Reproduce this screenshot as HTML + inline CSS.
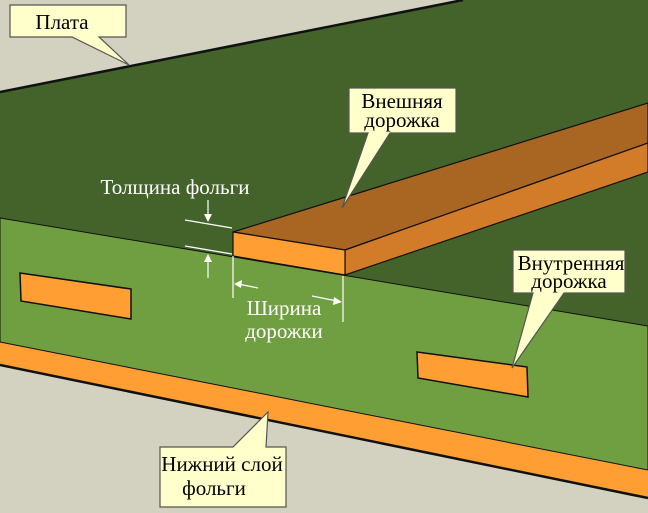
<!DOCTYPE html>
<html><head><meta charset="utf-8"><style>
html,body{margin:0;padding:0;background:#d3d1bf}
svg{display:block}
text{font-family:"Liberation Serif","DejaVu Serif",serif;font-size:21px}
</style></head><body>
<svg width="648" height="513" viewBox="0 0 648 513" xmlns="http://www.w3.org/2000/svg">
<rect width="648" height="513" fill="#d3d1bf"/>
<polygon points="0,92 463,0 648,0 648,326 0,218" fill="#43632a"/>
<line x1="0" y1="92" x2="463" y2="0" stroke="#111" stroke-width="2.5"/>
<polygon points="0,342 648,470 648,498 0,365" fill="#ff9e33"/>
<line x1="0" y1="365" x2="648" y2="498" stroke="#111" stroke-width="2.5"/>
<polygon points="0,218 648,326 648,470 0,342" fill="#6f9f40" stroke="#111" stroke-width="1"/>
<polygon points="233,232 648,103 648,143 345,250" fill="#a96622" stroke="#111" stroke-width="1.2"/>
<polygon points="345,250 648,143 648,172 345,275" fill="#d27c2a" stroke="#111" stroke-width="1.2"/>
<polygon points="233,232 345,250 345,275 233,256" fill="#ff9e33" stroke="#111" stroke-width="1.2"/>
<polygon points="20,273 131,289 131,319 21,301" fill="#ff9e33" stroke="#111" stroke-width="1.5"/>
<polygon points="417,352 527,367 528,397 418,378" fill="#ff9e33" stroke="#111" stroke-width="1.5"/>
<g stroke="#fff" stroke-width="1.2" fill="#fff">
<line x1="185" y1="220" x2="232" y2="228"/>
<line x1="185" y1="246" x2="232" y2="254"/>
<line x1="208" y1="200" x2="208" y2="218"/>
<polygon points="204,214 212,214 208,222" stroke="none"/>
<line x1="208" y1="278" x2="208" y2="258"/>
<polygon points="204,262 212,262 208,254" stroke="none"/>
<line x1="233" y1="256" x2="233" y2="298"/>
<line x1="343" y1="276" x2="343" y2="322"/>
<line x1="258" y1="288" x2="238" y2="284"/>
<polygon points="234,284 242,280 241,288" stroke="none"/>
<line x1="312" y1="296" x2="337" y2="301"/>
<polygon points="342,302 334,297 333,305" stroke="none"/>
</g>
<g fill="#fff" text-anchor="middle">
<text x="175" y="194">Толщина фольги</text>
<text x="284" y="315">Ширина</text>
<text x="284" y="338">дорожки</text>
</g>
<g fill="#ffffcc" stroke="#555" stroke-width="1.2">
<path d="M10,5 H126 V37 H99 L129,65 L72,37 H10 Z"/>
<path d="M349,88 H456 V133 H390 L342,208 L368,133 H349 Z"/>
<path d="M513,250 H625 V293 H564 L512,368 L533,293 H513 Z"/>
<path d="M160,447 V507 H286 V447 H266 L268,412 L233,447 Z"/>
</g>
<g fill="#000" text-anchor="middle">
<text x="62" y="29">Плата</text>
<text x="402" y="108">Внешняя</text>
<text x="402" y="127">дорожка</text>
<text x="571" y="270">Внутренняя</text>
<text x="569" y="288">дорожка</text>
<text x="222" y="471">Нижний слой</text>
<text x="214" y="495">фольги</text>
</g>
</svg>
</body></html>
